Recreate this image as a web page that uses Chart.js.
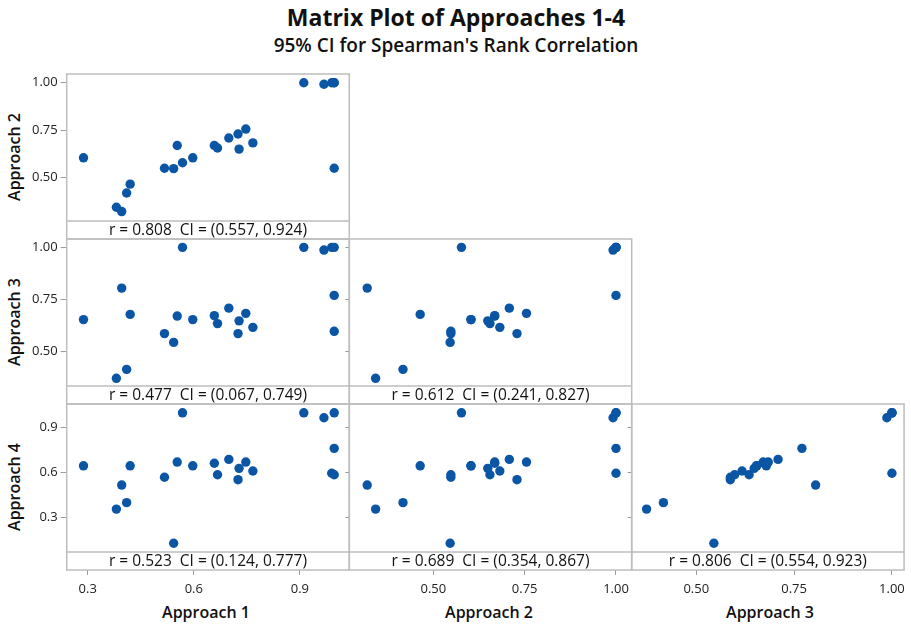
<!DOCTYPE html>
<html>
<head>
<meta charset="utf-8">
<script src="https://cdn.jsdelivr.net/npm/chart.js@4.4.1/dist/chart.umd.min.js"></script>
<style>
  html, body { margin: 0; padding: 0; background: #fff; }
  #wrap { position: relative; width: 911px; height: 624px; overflow: hidden; font-family: "Open Sans", sans-serif; color: #111; }
  canvas { position: absolute; left: 0; top: 0; }
  .t { position: absolute; white-space: nowrap; transform: translate(-50%, -50%); }
  .title { font-weight: 700; font-size: 23px; }
  .sub { font-weight: 600; font-size: 19px; }
  .ax { font-weight: 600; font-size: 16px; }
  .axy { font-weight: 600; font-size: 16px; transform: translate(-50%, -50%) rotate(-90deg); }
</style>
</head>
<body>
<div id="wrap">
  <div class="t title" style="left:456px; top:17px;">Matrix Plot of Approaches 1-4</div>
  <div class="t sub" style="left:456px; top:45px;">95% CI for Spearman's Rank Correlation</div>
  <div class="t ax" style="left:206px; top:612px;">Approach 1</div>
  <div class="t ax" style="left:489px; top:612px;">Approach 2</div>
  <div class="t ax" style="left:770px; top:612px;">Approach 3</div>
  <div class="t axy" style="left:14px; top:157px;">Approach 2</div>
  <div class="t axy" style="left:14px; top:322px;">Approach 3</div>
  <div class="t axy" style="left:14px; top:487px;">Approach 4</div>
</div>
<script>
// ---- data (one observation per index) ----
const approach1 = [0.288, 0.381, 0.396, 0.410, 0.420, 0.517, 0.543, 0.553, 0.568, 0.597, 0.658, 0.667, 0.699, 0.725, 0.728, 0.747, 0.767, 0.911, 0.968, 0.997, 0.990, 0.997, 0.997];
const approach2 = [0.603, 0.342, 0.319, 0.417, 0.464, 0.548, 0.546, 0.668, 0.577, 0.603, 0.668, 0.655, 0.708, 0.729, 0.649, 0.755, 0.682, 1.000, 0.992, 1.000, 1.000, 1.000, 0.548];
const approach3 = [0.654, 0.373, 0.805, 0.416, 0.679, 0.587, 0.545, 0.671, 1.000, 0.654, 0.673, 0.635, 0.709, 0.587, 0.648, 0.684, 0.617, 1.000, 0.987, 1.000, 1.000, 0.770, 0.598];
const approach4 = [0.645, 0.355, 0.516, 0.398, 0.645, 0.568, 0.126, 0.670, 1.000, 0.645, 0.662, 0.585, 0.688, 0.552, 0.628, 0.670, 0.610, 1.000, 0.967, 1.000, 0.595, 0.762, 0.585];

const varNames = ["Approach 1", "Approach 2", "Approach 3", "Approach 4"];
const ticks1 = [0.3, 0.6, 0.9];
const ticks2 = [0.50, 0.75, 1.00];
const ticks3 = [0.50, 0.75, 1.00];
const ticks4 = [0.3, 0.6, 0.9];

// panel order: (x var, y var)
const panelX = [0, 0, 1, 0, 1, 2];
const panelY = [1, 2, 2, 3, 3, 3];
const rValues = [0.808, 0.477, 0.612, 0.523, 0.689, 0.806];
const ciLower = [0.557, 0.067, 0.241, 0.124, 0.354, 0.554];
const ciUpper = [0.924, 0.749, 0.827, 0.777, 0.867, 0.923];

// ---- layout / styling ----
const vars = [approach1, approach2, approach3, approach4];
const tickSets = [ticks1, ticks2, ticks3, ticks4];
const decimals = [1, 2, 2, 1];
const xRange = [[0.2405, 1.0397], [0.270, 1.043], [0.335, 1.031]];
const yRange = { 1: [0.174, 1.046], 2: [0.250, 1.040], 3: [-0.053, 1.059] };
const colX = [66.7, 349.3, 631.7, 910];
const rowY = [74, 239, 404, 570];
const W = 911, H = 624;
const YBOX = 44, XBOX = 32;
const FONT = "'Open Sans', sans-serif";

const framePlugin = {
  id: 'frame',
  afterDraw(chart, args, opts) {
    const a = chart.chartArea, ctx = chart.ctx;
    ctx.save();
    ctx.strokeStyle = '#bdbdbd';
    ctx.lineWidth = 1.5;
    ctx.strokeRect(a.left, a.top, a.right - a.left, a.bottom - a.top);
    const sy = a.bottom - 18;
    ctx.beginPath();
    ctx.moveTo(a.left, sy); ctx.lineTo(a.right, sy);
    ctx.stroke();
    ctx.fillStyle = '#111';
    ctx.font = "15.5px " + FONT;
    ctx.textAlign = 'center';
    ctx.textBaseline = 'middle';
    ctx.fillText(opts.label, (a.left + a.right) / 2, sy + 9.5);
    ctx.restore();
  }
};

const wrap = document.getElementById('wrap');
for (let p = 0; p < panelX.length; p++) {
  const xv = panelX[p], yv = panelY[p];
  const col = xv, row = yv - 1;
  const canvas = document.createElement('canvas');
  canvas.width = W; canvas.height = H;
  canvas.style.width = W + 'px'; canvas.style.height = H + 'px';
  wrap.appendChild(canvas);
  const pts = vars[xv].map((v, i) => ({ x: v, y: vars[yv][i] }));
  const isLeft = col === 0;
  const isBottom = row === 2;
  const label = 'r = ' + rValues[p].toFixed(3) + '  CI = (' + ciLower[p].toFixed(3) + ', ' + ciUpper[p].toFixed(3) + ')';
  new Chart(canvas, {
    type: 'scatter',
    data: { datasets: [{ data: pts, backgroundColor: '#0b55a5', borderColor: '#0b55a5', borderWidth: 0, pointRadius: 4.7, pointHoverRadius: 4.7 }] },
    plugins: [framePlugin],
    options: {
      responsive: false,
      animation: false,
      events: [],
      devicePixelRatio: 1,
      layout: { padding: { left: colX[col] - YBOX, right: W - colX[col + 1], top: rowY[row], bottom: H - rowY[row + 1] - XBOX } },
      plugins: { legend: { display: false }, tooltip: { enabled: false }, frame: { label } },
      scales: {
        x: {
          type: 'linear', min: xRange[col][0], max: xRange[col][1],
          afterBuildTicks: s => { s.ticks = tickSets[xv].map(v => ({ value: v })); },
          afterFit: s => { s.height = XBOX; },
          border: { display: false },
          grid: { display: isBottom, drawOnChartArea: false, drawTicks: true, tickLength: 5, color: '#9a9a9a', lineWidth: 1 },
          ticks: { display: isBottom, autoSkip: false, maxRotation: 0, padding: 6, color: '#222', font: { family: FONT, size: 13 },
                   callback: v => Number(v).toFixed(decimals[xv]) }
        },
        y: {
          type: 'linear', min: yRange[yv][0], max: yRange[yv][1],
          afterBuildTicks: s => { s.ticks = tickSets[yv].map(v => ({ value: v })); },
          afterFit: s => { s.width = YBOX; },
          border: { display: false },
          grid: { display: true, drawOnChartArea: false, drawTicks: true, tickLength: isLeft ? 6 : 4, color: '#9a9a9a', lineWidth: 1 },
          ticks: { display: isLeft, autoSkip: false, padding: 3, color: '#222', font: { family: FONT, size: 13 },
                   callback: v => Number(v).toFixed(decimals[yv]) }
        }
      }
    }
  });
}
</script>
</body>
</html>
